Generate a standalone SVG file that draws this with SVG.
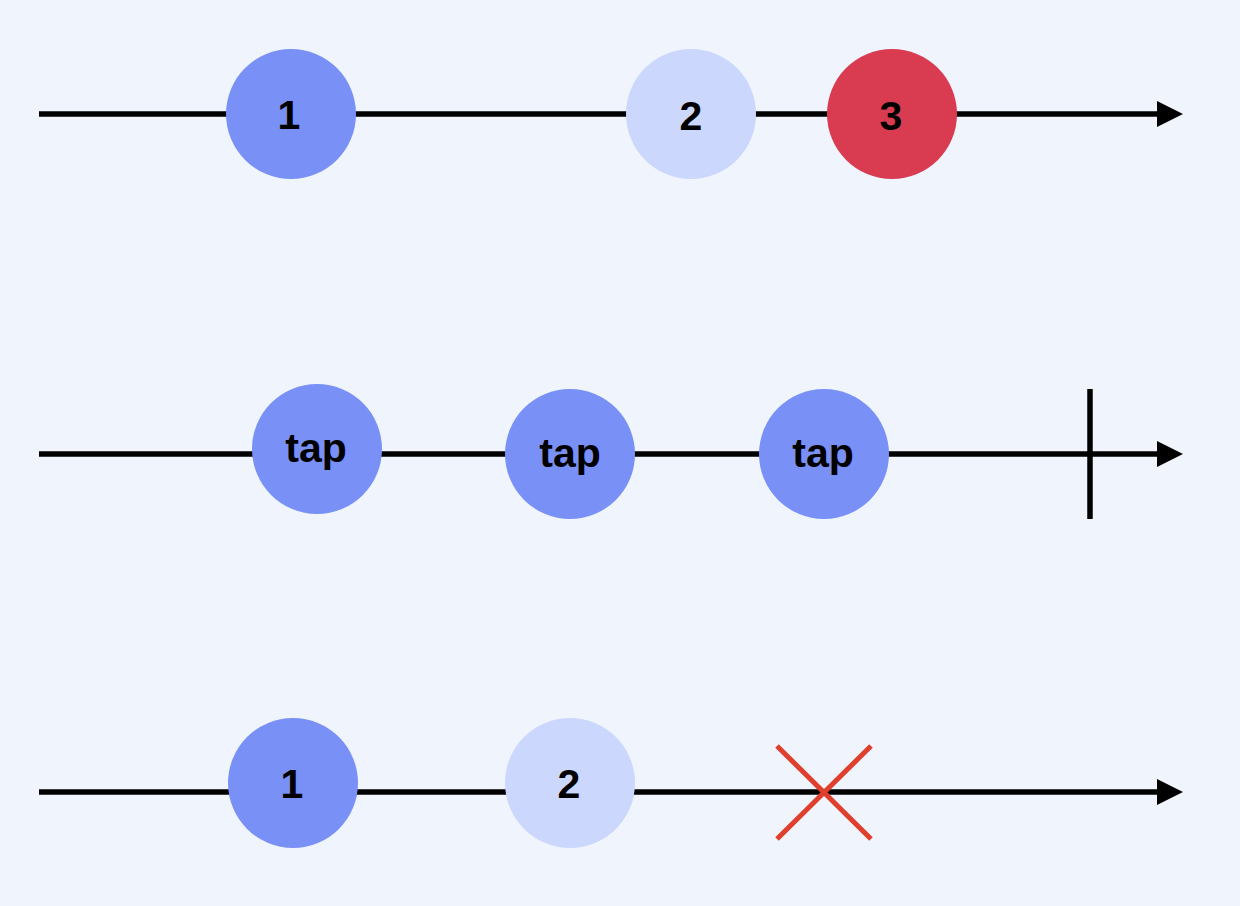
<svg xmlns="http://www.w3.org/2000/svg" width="1240" height="906" viewBox="0 0 1240 906">
  <style>
    .axis { stroke: #000; stroke-width: 5.5; fill: none; }
    .tick { stroke: #000; stroke-width: 5.5; }
    .cross { stroke: #DF3F2C; stroke-width: 5; }
    .head { fill: #000; }
    .blue { fill: #7990F7; }
    .pale { fill: #CBD7FC; }
    .red { fill: #D93C50; }
    .lbl { font-family: "Liberation Sans", Arial, sans-serif; font-weight: bold; font-size: 41px; fill: #000; text-anchor: middle; }
  </style>
  <rect width="1240" height="906" fill="#EFF4FD"/>

  <!-- timelines -->
  <g id="connectors">
    <line class="axis" x1="39" y1="114" x2="1160" y2="114"/>
    <polygon class="head" points="1157,101 1183,114 1157,127"/>
    <line class="axis" x1="39" y1="454" x2="1160" y2="454"/>
    <polygon class="head" points="1157,441 1183,454 1157,467"/>
    <line class="axis" x1="39" y1="792" x2="1160" y2="792"/>
    <polygon class="head" points="1157,779 1183,792 1157,805"/>
  </g>

  <!-- row 1 -->
  <g id="r1-n1"><circle class="blue" cx="291" cy="114" r="65"/><text class="lbl" x="289" y="129">1</text></g>
  <g id="r1-n2"><circle class="pale" cx="691" cy="114" r="65"/><text class="lbl" x="691" y="130">2</text></g>
  <g id="r1-n3"><circle class="red" cx="892" cy="114" r="65"/><text class="lbl" x="891" y="130">3</text></g>

  <!-- row 2 -->
  <g id="r2-n1"><circle class="blue" cx="317" cy="449" r="65"/><text class="lbl" x="316" y="462">tap</text></g>
  <g id="r2-n2"><circle class="blue" cx="570" cy="454" r="65"/><text class="lbl" x="570" y="467">tap</text></g>
  <g id="r2-n3"><circle class="blue" cx="824" cy="454" r="65"/><text class="lbl" x="823" y="467">tap</text></g>
  <g id="r2-end"><line class="tick" x1="1090" y1="389" x2="1090" y2="519"/></g>

  <!-- row 3 -->
  <g id="r3-n1"><circle class="blue" cx="293" cy="783" r="65"/><text class="lbl" x="292" y="798">1</text></g>
  <g id="r3-n2"><circle class="pale" cx="570" cy="783" r="65"/><text class="lbl" x="569" y="798">2</text></g>
  <g id="r3-error">
    <line class="cross" x1="777" y1="746" x2="871" y2="839"/>
    <line class="cross" x1="871" y1="746" x2="777" y2="839"/>
  </g>
</svg>
